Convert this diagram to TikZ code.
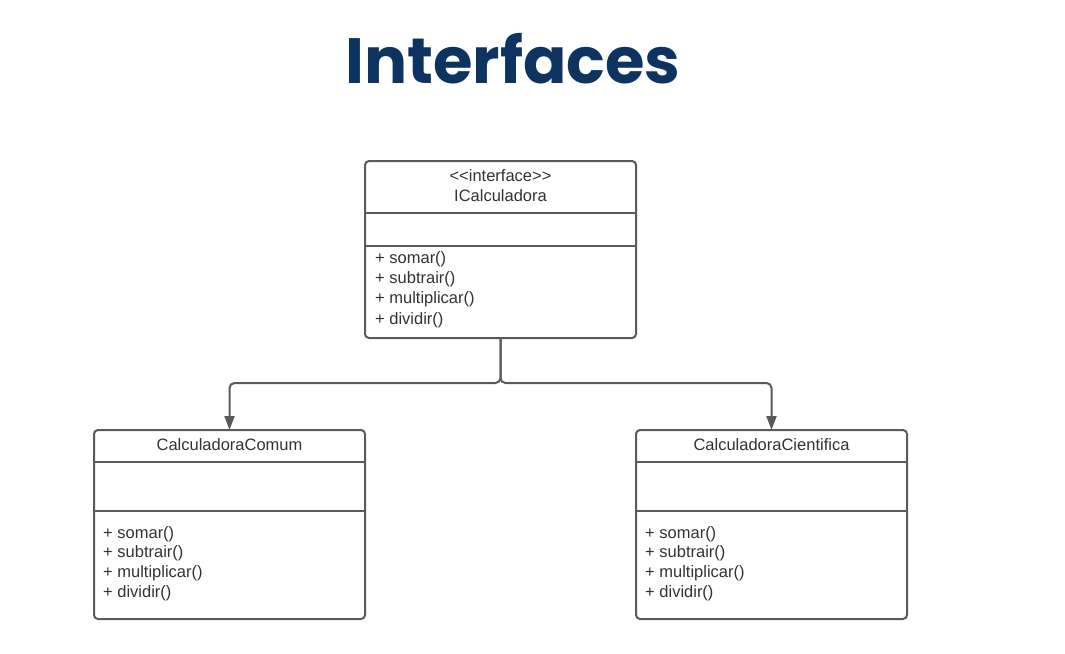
\documentclass[tikz,border=0pt]{standalone}
\usepackage{fontspec}
\setmainfont{Liberation Sans}
\newfontfamily\titlefont{Poppins}
\usetikzlibrary{arrows.meta}
\definecolor{titleblue}{HTML}{0D3461}
\definecolor{umlline}{HTML}{5A5A5A}
\definecolor{umltext}{HTML}{333333}
\tikzset{
  umlbox/.style={draw=umlline, line width=2pt, rounded corners=4pt, anchor=north west, inner sep=0pt, outer sep=0pt},
  divider/.style={draw=umlline, line width=2pt},
  umltxt/.style={text=umltext, font=\fontsize{16.5}{18}\selectfont, inner sep=0pt},
  method/.style={umltxt, anchor=west},
  conn/.style={draw=umlline, line width=2pt, rounded corners=5pt, -{Triangle[width=10pt,length=14pt]}},
}
\begin{document}
\begin{tikzpicture}[x=1pt,y=-1pt]
\useasboundingbox (0,0) rectangle (1065,653);
\fill[white] (0,0) rectangle (1065,653);

\node[text=titleblue, inner sep=0pt] (title) at (513,59) {\titlefont\bfseries\fontsize{64}{70}\selectfont Interfaces};

% interface box
\node[umlbox, minimum width=271pt, minimum height=177pt] (iface) at (365,161) {};
\draw[divider] (365,213) -- (636,213);
\draw[divider] (365,246) -- (636,246);
\node[umltxt] (istereo) at (500.5,176) {<\kern0pt<interface>\kern0pt>};
\node[umltxt] (iname) at (500.5,196) {ICalculadora};
\node[method] (im1) at (375,259) {+ somar()};
\node[method] (im2) at (375,279) {+ subtrair()};
\node[method] (im3) at (375,299) {+ multiplicar()};
\node[method] (im4) at (375,320) {+ dividir()};

% left box
\node[umlbox, minimum width=271pt, minimum height=189pt] (comum) at (94,430) {};
\draw[divider] (94,462) -- (365,462);
\draw[divider] (94,511) -- (365,511);
\node[umltxt] (cname) at (229.5,445) {CalculadoraComum};
\node[method] (cm1) at (103,534) {+ somar()};
\node[method] (cm2) at (103,553) {+ subtrair()};
\node[method] (cm3) at (103,573) {+ multiplicar()};
\node[method] (cm4) at (103,593) {+ dividir()};

% right box
\node[umlbox, minimum width=271pt, minimum height=189pt] (cient) at (636,430) {};
\draw[divider] (636,462) -- (907,462);
\draw[divider] (636,511) -- (907,511);
\node[umltxt] (rname) at (771.5,445) {CalculadoraCientifica};
\node[method] (rm1) at (645,534) {+ somar()};
\node[method] (rm2) at (645,553) {+ subtrair()};
\node[method] (rm3) at (645,573) {+ multiplicar()};
\node[method] (rm4) at (645,593) {+ dividir()};

% connectors
\coordinate (junc) at ([yshift=-45pt]iface.south);
\draw[conn] (iface.south) -- (junc) -| (comum.north);
\draw[conn] (iface.south) -- (junc) -| (cient.north);
\end{tikzpicture}
\end{document}
